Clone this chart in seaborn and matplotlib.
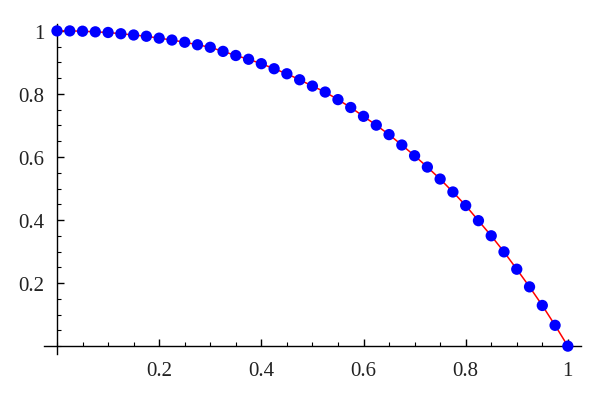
"""
Mathematica-style curve: blue sample points on a red line, axes crossing at the origin.
"""

import numpy as np
import pandas as pd
import matplotlib
matplotlib.use('Agg')
import matplotlib.pyplot as plt
import seaborn as sns
from matplotlib.ticker import MultipleLocator, FuncFormatter

# sample positions and values
x_vals = [0.000, 0.025, 0.050, 0.075, 0.100, 0.125, 0.150, 0.175, 0.200, 0.225,
          0.250, 0.275, 0.300, 0.325, 0.350, 0.375, 0.400, 0.425, 0.450, 0.475,
          0.500, 0.525, 0.550, 0.575, 0.600, 0.625, 0.650, 0.675, 0.700, 0.725,
          0.750, 0.775, 0.800, 0.825, 0.850, 0.875, 0.900, 0.925, 0.950, 0.975,
          1.000]
y_vals = [1.000, 1.000, 0.999, 0.997, 0.995, 0.991, 0.987, 0.983, 0.977, 0.971,
          0.964, 0.956, 0.948, 0.935, 0.922, 0.910, 0.896, 0.880, 0.864, 0.845,
          0.825, 0.806, 0.782, 0.757, 0.729, 0.701, 0.671, 0.638, 0.604, 0.568,
          0.530, 0.489, 0.446, 0.398, 0.350, 0.299, 0.244, 0.188, 0.129, 0.066,
          0.000]

x_ticks = [0.2, 0.4, 0.6, 0.8, 1.0]
y_ticks = [0.2, 0.4, 0.6, 0.8, 1.0]

df = pd.DataFrame({'x': x_vals, 'y': y_vals})

sns.set_style('ticks')
plt.rcParams['font.family'] = ['Liberation Serif', 'DejaVu Serif']

fig = plt.figure(figsize=(6, 4.02), dpi=100)
ax = fig.add_axes([0.0737, 0.1169, 0.894, 0.821])

sns.lineplot(data=df, x='x', y='y', color='red', linewidth=1.1, ax=ax, zorder=2)
sns.scatterplot(data=df, x='x', y='y', color='#0000ff', s=66, edgecolor='none',
                ax=ax, zorder=3, clip_on=False)

ax.set_xlim(-0.025, 1.025)
ax.set_ylim(-0.025, 1.022)

# axes through the origin
ax.spines['left'].set_position(('data', 0))
ax.spines['bottom'].set_position(('data', 0))
ax.spines['top'].set_visible(False)
ax.spines['right'].set_visible(False)
for side in ['left', 'bottom']:
    ax.spines[side].set_linewidth(1.0)
    ax.spines[side].set_color('black')

ax.set_xticks(x_ticks)
ax.set_yticks(y_ticks)
ax.xaxis.set_minor_locator(MultipleLocator(0.05))
ax.yaxis.set_minor_locator(MultipleLocator(0.05))

fmt = FuncFormatter(lambda v, p: '1' if abs(v - 1) < 1e-9 else f'{v:.1f}')
ax.xaxis.set_major_formatter(fmt)
ax.yaxis.set_major_formatter(fmt)

ax.tick_params(axis='both', which='major', direction='in', length=5, width=1.0,
               labelsize=15, colors='black')
ax.tick_params(axis='both', which='minor', direction='in', length=3, width=0.8,
               colors='black')
ax.tick_params(axis='x', which='major', pad=11)
ax.tick_params(axis='y', which='major', pad=9)
for lbl in ax.get_xticklabels() + ax.get_yticklabels():
    lbl.set_color('#222222')

ax.set_xlabel('')
ax.set_ylabel('')

plt.savefig('out.png', dpi=100)
